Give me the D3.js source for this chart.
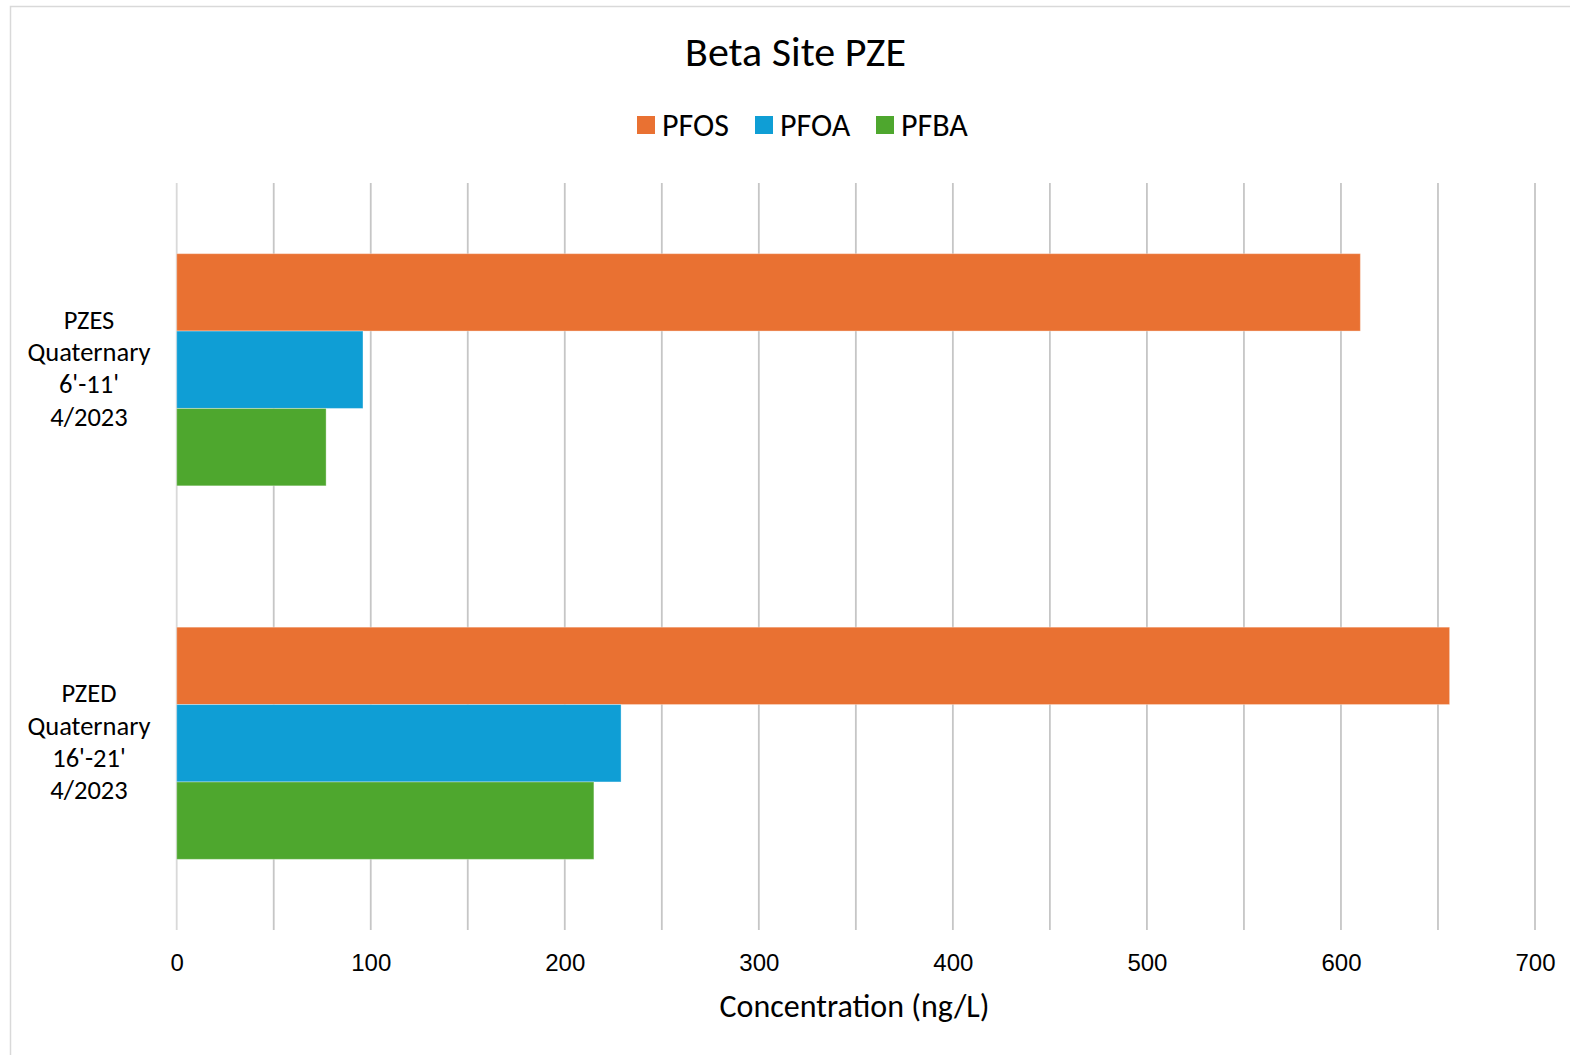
<!DOCTYPE html>
<html>
<head>
<meta charset="utf-8">
<script src="https://cdn.jsdelivr.net/npm/d3@7"></script>
<style>
  html, body { margin: 0; padding: 0; background: #fff; }
  svg { display: block; font-family: Carlito, Calibri, Lato, "Open Sans", sans-serif; }
</style>
</head>
<body>
<svg id="chart" width="1570" height="1055"></svg>
<script>
const categories = [
  ["PZES", "Quaternary", "6'-11'", "4/2023"],
  ["PZED", "Quaternary", "16'-21'", "4/2023"]
];
const seriesNames = ["PFOS", "PFOA", "PFBA"];
const seriesColors = ["#E97132", "#0F9ED5", "#4EA72E"];
const pfos = [610, 656];
const pfoa = [96, 229];
const pfba = [77, 215];
const xTicks = [0, 100, 200, 300, 400, 500, 600, 700];
const gridTicks = d3.range(0, 701, 50);
const title = "Beta Site PZE";
const xTitle = "Concentration (ng/L)";

const values = [pfos, pfoa, pfba];
const svg = d3.select("#chart");

// chart border
svg.append("rect")
  .attr("x", 10.5).attr("y", 6.5)
  .attr("width", 1600).attr("height", 1100)
  .attr("fill", "#fff").attr("stroke", "#d9d9d9").attr("stroke-width", 1.5);

const plot = { left: 176.7, right: 1535, top: 183, bottom: 930 };

const x = d3.scaleLinear().domain([0, 700]).range([plot.left, plot.right]);
const y = d3.scaleBand().domain(d3.range(categories.length)).range([plot.top, plot.bottom]).padding(0);
const ySub = d3.scaleBand().domain(d3.range(seriesNames.length))
  .range([0, y.bandwidth()]).paddingInner(0).paddingOuter(0.913);

// gridlines
svg.append("g").selectAll("line").data(gridTicks).join("line")
  .attr("x1", d => x(d)).attr("x2", d => x(d))
  .attr("y1", plot.top).attr("y2", plot.bottom)
  .attr("stroke", d => d === 0 ? "#d9d9d9" : "#c6c6c6")
  .attr("stroke-width", 1.8);

// bars
const groups = svg.append("g").selectAll("g").data(categories).join("g")
  .attr("transform", (d, i) => `translate(0,${y(i)})`);
groups.each(function(cat, ci) {
  d3.select(this).selectAll("rect").data(seriesNames).join("rect")
    .attr("x", x(0))
    .attr("y", (s, si) => ySub(si))
    .attr("width", (s, si) => x(values[si][ci]) - x(0))
    .attr("height", ySub.bandwidth())
    .attr("fill", (s, si) => seriesColors[si])
    .attr("stroke", "rgba(255,255,255,0.35)")
    .attr("stroke-width", 1);
});

// x axis labels
const xAxis = d3.axisBottom(x).tickValues(xTicks).tickSize(0).tickPadding(0);
const gx = svg.append("g").attr("transform", `translate(0,${plot.bottom})`).call(xAxis);
gx.select(".domain").remove();
gx.selectAll("text")
  .attr("dy", null).attr("y", 32.5)
  .attr("dominant-baseline", "central")
  .attr("font-family", null)
  .attr("font-size", 24).attr("fill", "#000");

// category labels
const yAxisG = svg.append("g");
categories.forEach((lines, ci) => {
  const cy = y(ci) + y.bandwidth() / 2 - 1.5;
  const lh = 32.3;
  const t = yAxisG.append("text")
    .attr("text-anchor", "middle").attr("font-size", 26.5).attr("fill", "#000");
  lines.forEach((ln, li) => {
    t.append("tspan")
      .attr("x", 89)
      .attr("y", cy + (li - (lines.length - 1) / 2) * lh)
      .attr("dominant-baseline", "central")
      .text(ln);
  });
});

// title
svg.append("text").attr("x", 795.5).attr("y", 51.5)
  .attr("text-anchor", "middle").attr("dominant-baseline", "central")
  .attr("font-size", 42).attr("fill", "#000").text(title);

// axis title
svg.append("text").attr("x", 854.5).attr("y", 1006)
  .attr("text-anchor", "middle").attr("dominant-baseline", "central")
  .attr("font-size", 32).attr("fill", "#000").text(xTitle);

// legend
const legendX = [637, 755, 876];
const leg = svg.append("g").selectAll("g").data(seriesNames).join("g")
  .attr("transform", (d, i) => `translate(${legendX[i]},125)`);
leg.append("rect").attr("x", 0).attr("y", -9).attr("width", 18).attr("height", 18)
  .attr("fill", (d, i) => seriesColors[i]);
leg.append("text").attr("x", 25).attr("y", 0)
  .attr("dominant-baseline", "central").attr("font-size", 32).attr("fill", "#000")
  .text(d => d);
</script>
</body>
</html>
